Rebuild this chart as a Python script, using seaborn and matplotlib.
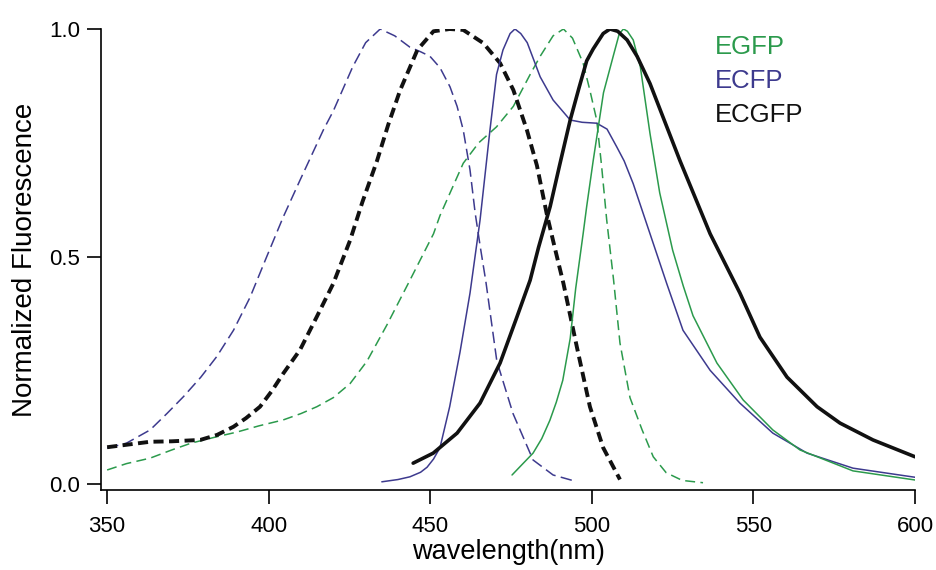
import numpy as np
import pandas as pd
import matplotlib
matplotlib.use("Agg")
import matplotlib.pyplot as plt
import seaborn as sns

sns.set_style("ticks")
plt.rcParams['font.family'] = ['Liberation Sans', 'DejaVu Sans']
plt.rcParams['text.color'] = 'black'
plt.rcParams['axes.labelcolor'] = 'black'
plt.rcParams['xtick.color'] = 'black'
plt.rcParams['ytick.color'] = 'black'

# ---- data ----
ecfp_ex_x = [350, 356, 363.3, 368.5, 373.6, 379, 383.9, 389.1, 394.2, 399.4, 404.5, 409.7, 416.9, 420, 426,
             430, 434.5, 439, 443.7, 447, 449.9, 453, 456.1, 458.3, 460.2, 462.3, 463.9, 465.5, 467.2,
             470.6, 475.6, 481.8, 488, 494]
ecfp_ex_y = [0.079, 0.09, 0.119, 0.155, 0.192, 0.235, 0.28, 0.338, 0.41, 0.50, 0.587, 0.668, 0.778, 0.82, 0.917,
             0.97, 1.0, 0.985, 0.96, 0.95, 0.94, 0.915, 0.873, 0.83, 0.778, 0.69, 0.595, 0.52, 0.445,
             0.27, 0.155, 0.053, 0.02, 0.008]

ecgfp_ex_x = [350, 363.3, 370, 378.8, 384, 389.1, 393, 397.3, 401, 404.5, 409.7, 414.9, 420, 425.2, 429,
              433.5, 437, 440.7, 446, 451, 456, 460.2, 466.4, 471.6, 475.7, 479.9, 483, 486, 488.5, 491.2,
              495.4, 499.4, 503.5, 508.7]
ecgfp_ex_y = [0.081, 0.093, 0.094, 0.097, 0.108, 0.126, 0.145, 0.17, 0.205, 0.243, 0.295, 0.368, 0.441, 0.536, 0.62,
              0.71, 0.79, 0.866, 0.954, 0.995, 1.0, 0.998, 0.969, 0.925, 0.866, 0.778, 0.70, 0.595, 0.52, 0.441,
              0.30, 0.17, 0.08, 0.01]

egfp_ex_x = [350, 356, 363.3, 370, 376, 383.9, 390, 397, 404.5, 410, 414.9, 420, 425.2, 430.4, 436.6,
             443.7, 451, 453, 460.2, 465, 470.5, 475.7, 480.9, 484, 488, 491.2, 494, 497.3, 499.4, 501.5,
             503, 504.6, 506.7, 508.7, 511.8, 515.5, 519, 523, 528, 534.4]
egfp_ex_y = [0.031, 0.045, 0.057, 0.075, 0.09, 0.104, 0.114, 0.128, 0.141, 0.155, 0.17, 0.19, 0.221, 0.27, 0.35,
             0.448, 0.55, 0.59, 0.705, 0.75, 0.785, 0.83, 0.90, 0.94, 0.985, 1.0, 0.98, 0.925, 0.865, 0.80,
             0.70, 0.58, 0.45, 0.31, 0.19, 0.12, 0.06, 0.025, 0.008, 0.003]

ecfp_em_x = [435, 440, 443.7, 447, 449, 451, 453, 456, 459.2, 462.3, 465.4, 468.5, 470.5, 472.5, 474.7,
             476.2, 478, 480, 484, 488, 493.3, 497, 501.5, 504.7, 507.7, 510, 512.8, 518, 523.2, 528.2,
             536.6, 545.8, 556, 566.6, 580.8, 600]
ecfp_em_y = [0.005, 0.01, 0.016, 0.026, 0.037, 0.055, 0.08, 0.17, 0.29, 0.42, 0.58, 0.78, 0.90, 0.954, 0.99,
             1.0, 0.99, 0.97, 0.895, 0.844, 0.80, 0.795, 0.793, 0.78, 0.741, 0.71, 0.66, 0.55, 0.44, 0.338,
             0.25, 0.178, 0.112, 0.068, 0.035, 0.015]

egfp_em_x = [475.3, 478, 481.8, 484.5, 487, 489, 491, 493.3, 495, 497.3, 498.4, 500.4, 503.6, 506.6,
             508.5, 509.8, 511, 512.8, 515, 518, 521, 525, 528.3, 531.3, 538.7, 546.8, 556, 564.4, 580.8, 600]
egfp_em_y = [0.02, 0.04, 0.068, 0.10, 0.14, 0.18, 0.228, 0.32, 0.43, 0.55, 0.61, 0.71, 0.86, 0.94,
             0.99, 1.0, 0.995, 0.976, 0.917, 0.77, 0.64, 0.514, 0.435, 0.37, 0.266, 0.185, 0.119, 0.075, 0.029, 0.009]

ecgfp_em_x = [444.7, 450.9, 458.3, 465.4, 471.6, 476.8, 480.9, 483.5, 487.1, 490, 493.3, 496, 498.4, 500.4,
              503.5, 505.6, 508, 510.9, 514, 518, 527.3, 536.6, 545.8, 552, 560.4, 569.7, 576.8, 587, 600]
ecgfp_em_y = [0.046, 0.068, 0.112, 0.178, 0.266, 0.367, 0.448, 0.52, 0.61, 0.70, 0.80, 0.87, 0.93, 0.956,
              0.99, 1.0, 0.995, 0.976, 0.94, 0.88, 0.71, 0.55, 0.42, 0.323, 0.235, 0.17, 0.134, 0.097, 0.06]

x_ticks = [350, 400, 450, 500, 550, 600]
y_ticks = [0.0, 0.5, 1.0]
y_tick_labels = ["0.0", "0.5", "1.0"]
legend_names = ["EGFP", "ECFP", "ECGFP"]

GREEN = "#2b9a4c"
BLUE = "#3d3a8e"
BLACK = "#111111"

fig = plt.figure(figsize=(9.36, 5.70), dpi=100)
ax = fig.add_axes([101/936, 1 - 490/570, 814/936, 461/570])

series = [
    (ecfp_ex_x, ecfp_ex_y, BLUE, 1.1, (0, (7.5, 3.5))),
    (egfp_ex_x, egfp_ex_y, GREEN, 1.1, (0, (6.5, 3.5))),
    (ecgfp_ex_x, ecgfp_ex_y, BLACK, 2.8, (0, (2.6, 1.4))),
    (ecfp_em_x, ecfp_em_y, BLUE, 1.1, "-"),
    (egfp_em_x, egfp_em_y, GREEN, 1.1, "-"),
    (ecgfp_em_x, ecgfp_em_y, BLACK, 2.6, "-"),
]
for xs, ys, c, lw, ls in series:
    df = pd.DataFrame({"x": xs, "y": ys})
    sns.lineplot(data=df, x="x", y="y", ax=ax, color=c, linewidth=lw,
                 linestyle=ls, sort=False, estimator=None)

ax.set_xlim(348.1, 600)
ax.set_ylim(-0.013, 1.0)
ax.set_xticks(x_ticks)
ax.set_xticklabels([str(t) for t in x_ticks])
ax.set_yticks(y_ticks)
ax.set_yticklabels(y_tick_labels)

for s in ["top", "right"]:
    ax.spines[s].set_visible(False)
for s in ["left", "bottom"]:
    ax.spines[s].set_linewidth(1.2)
    ax.spines[s].set_color("black")

ax.tick_params(axis="both", direction="out", length=10, width=1.2, colors="black",
               labelcolor="black", labelsize=16)
ax.tick_params(axis="x", pad=9)
ax.tick_params(axis="y", pad=5)

ax.set_xlabel("wavelength(nm)", fontsize=19.5, labelpad=1, color="black")
ax.set_ylabel("Normalized Fluorescence", fontsize=20, labelpad=8, color="black")

for name, c, yb in zip(legend_names, [GREEN, BLUE, BLACK], [0.9458, 0.872, 0.798]):
    ax.text(0.754, yb, name, transform=ax.transAxes, color=c, fontsize=18.5,
            ha="left", va="baseline")

fig.savefig("out.png", dpi=100)
